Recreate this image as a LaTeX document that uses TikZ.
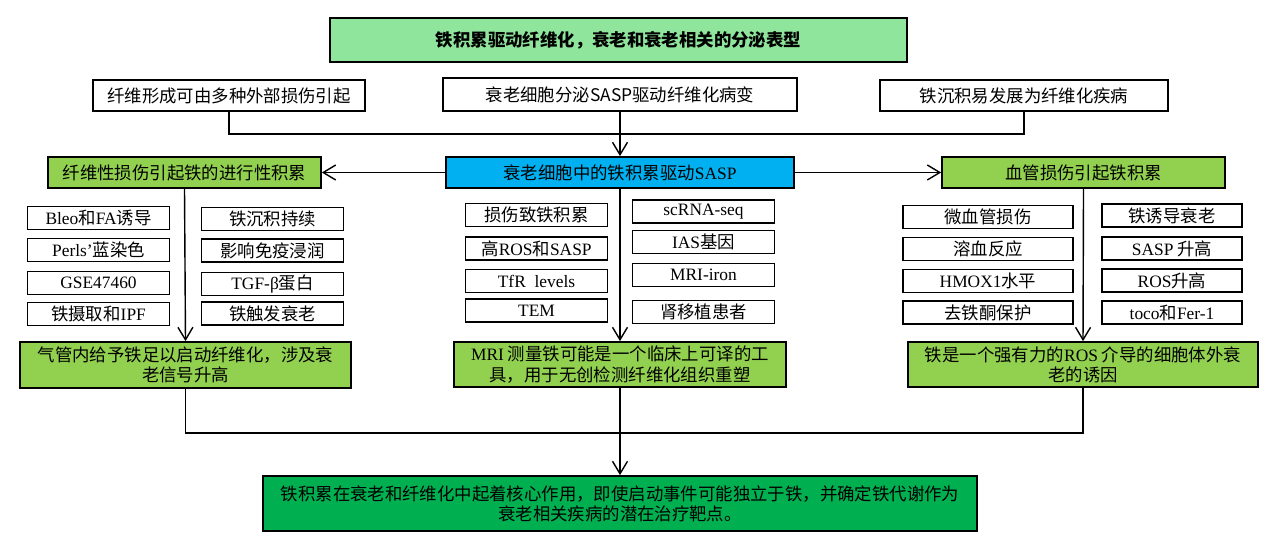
\documentclass[tikz,border=0pt]{standalone}
\usepackage{fontspec}
\setmainfont{Noto Sans CJK SC}
\newfontfamily\latinfont{Liberation Serif}
\newcommand{\en}[1]{{\latinfont #1}}
\usepackage{tikz}
\usetikzlibrary{arrows.meta, positioning, calc}
\definecolor{titlegreen}{HTML}{8EE59B}
\definecolor{headgreen}{HTML}{92D050}
\definecolor{saspblue}{HTML}{00B0F0}
\definecolor{finalgreen}{HTML}{00B050}

\begin{document}
\begin{tikzpicture}[
        x=0.02cm, y=-0.02cm,
        box/.style={draw, line width=1pt, align=center, inner sep=1pt, font=\fontsize{9.9}{11.5}\selectfont},
        item/.style={box, minimum width=2.84cm, minimum height=0.46cm},
        head/.style={box, fill=headgreen, minimum height=0.62cm},
        arrow/.style={-{Straight Barb[length=2.5mm, width=3mm]}, line width=0.8pt},
        link/.style={line width=0.8pt}
    ]
        \useasboundingbox (0,0) rectangle (1280,557);

        % titel und obere reihe
        \node[box, fill=titlegreen, minimum width=11.54cm, minimum height=0.88cm, font=\fontsize{9.9}{11.5}\selectfont\bfseries] (title) at (618.5,40) {铁积累驱动纤维化，衰老和衰老相关的分泌表型};
        \node[box, minimum width=5.44cm, minimum height=0.62cm] (cause) at (229,95.5) {纤维形成可由多种外部损伤引起};
        \node[box, minimum width=7.08cm, minimum height=0.66cm] (secrete) at (620,94.5) {衰老细胞分泌SASP驱动纤维化病变};
        \node[box, minimum width=5.76cm, minimum height=0.62cm] (deposit) at (1024,95.5) {铁沉积易发展为纤维化疾病};

        % drei kopfboxen
        \node[head, fill=saspblue, minimum width=6.96cm] (sasp) at (620,172.5) {衰老细胞中的铁积累驱动\en{SASP}};
        \node[head, minimum width=5.46cm] (fibro) at (184.5,172.5) {纤维性损伤引起铁的进行性积累};
        \node[head, minimum width=5.66cm] (vessel) at (1083.5,172.5) {血管损伤引起铁积累};

        % linke spalte
        \node[item] (la1) at (98.5,218) {\en{Bleo}和\en{FA}诱导};
        \node[item] (la2) at (98.5,250) {\en{Perls’}蓝染色};
        \node[item] (la3) at (98.5,283) {\en{GSE47460}};
        \node[item] (la4) at (98.5,314) {铁摄取和\en{IPF}};
        \node[item] (lb1) at (272.5,219) {铁沉积持续};
        \node[item] (lb2) at (272.5,250.5) {影响免疫浸润};
        \node[item] (lb3) at (272.5,284) {\en{TGF-β}蛋白};
        \node[item] (lb4) at (272.5,313.5) {铁触发衰老};

        % mittlere spalte
        \node[item] (ma1) at (536.5,215) {损伤致铁积累};
        \node[item] (ma2) at (536.5,248.5) {高\en{ROS}和\en{SASP}};
        \node[item] (ma3) at (536.5,281) {\en{TfR\ \ levels}};
        \node[item] (ma4) at (536.5,310.5) {\en{TEM}};
        \node[item] (mb1) at (703.5,211.5) {\en{scRNA-seq}};
        \node[item] (mb2) at (703.5,242) {\en{IAS}基因};
        \node[item] (mb3) at (703.5,275) {\en{MRI-iron}};
        \node[item] (mb4) at (703.5,312) {肾移植患者};

        % rechte spalte
        \node[item, minimum width=3.4cm] (ra1) at (988,217) {微血管损伤};
        \node[item, minimum width=3.4cm] (ra2) at (988,249) {溶血反应};
        \node[item, minimum width=3.4cm] (ra3) at (988,281) {\en{HMOX1}水平};
        \node[item, minimum width=3.4cm] (ra4) at (988,312.5) {去铁酮保护};
        \node[item, minimum width=2.8cm] (rb1) at (1172,215.5) {铁诱导衰老};
        \node[item, minimum width=2.8cm] (rb2) at (1172,248.5) {\en{SASP} 升高};
        \node[item, minimum width=2.8cm] (rb3) at (1172,280.5) {\en{ROS}升高};
        \node[item, minimum width=2.8cm] (rb4) at (1172,312.5) {\en{toco}和\en{Fer-1}};

        % ergebnisboxen
        \node[head, minimum width=6.62cm, minimum height=0.92cm] (fibroend) at (185.5,365) {气管内给予铁足以启动纤维化，涉及衰\\老信号升高};
        \node[head, minimum width=6.64cm, minimum height=0.9cm] (mriend) at (620,364.5) {\en{MRI} 测量铁可能是一个临床上可译的工\\具，用于无创检测纤维化组织重塑};
        \node[head, minimum width=7.0cm, minimum height=0.9cm] (vesselend) at (1083,364.5) {铁是一个强有力的\en{ROS} 介导的细胞体外衰\\老的诱因};
        \node[box, fill=finalgreen, minimum width=14.28cm, minimum height=1.1cm] (final) at (620,503.5) {铁积累在衰老和纤维化中起着核心作用，即使启动事件可能独立于铁，并确定铁代谢作为\\衰老相关疾病的潜在治疗靶点。};

        % verbindungen
        \draw[link] (cause.south) -- ++(0,22) -| (deposit.south);
        \draw[arrow] (secrete.south) -- (sasp.north);
        \draw[arrow] (sasp.west) -- (fibro.east);
        \draw[arrow] (sasp.east) -- (vessel.west);
        \draw[arrow] (fibro.south) -- (fibroend.north);
        \draw[arrow] (sasp.south) -- (mriend.north);
        \draw[arrow] (vessel.south) -- (vesselend.north);
        \draw[link] (fibroend.south) -- ++(0,44) -| (vesselend.south);
        \draw[arrow] (mriend.south) -- (final.north);
    \end{tikzpicture}
\end{document}
